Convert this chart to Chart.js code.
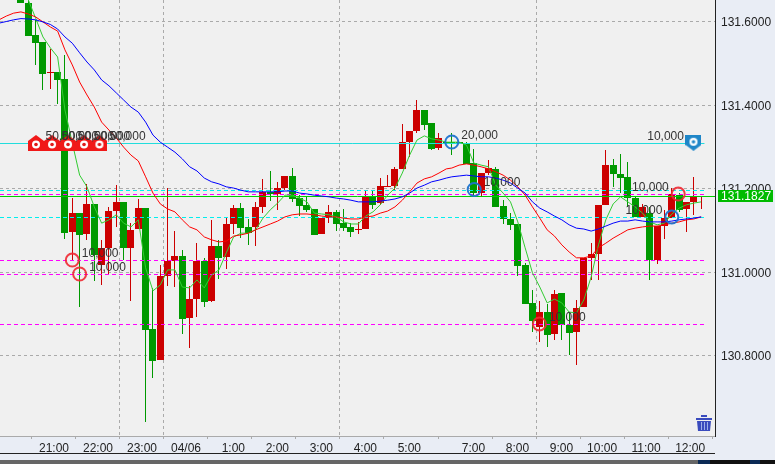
<!DOCTYPE html>
<html>
<head>
<meta charset="utf-8">
<title>USD/JPY chart</title>
<script src="https://cdn.jsdelivr.net/npm/chart.js@4"></script>
<style>
  html, body { margin: 0; padding: 0; background: #e9edf5; overflow: hidden; }
  #wrap { width: 775px; height: 464px; position: relative; }
</style>
</head>
<body>
<div id="wrap"><canvas id="chart" width="775" height="464"></canvas></div>
<script>
// candles, oldest first (first one is off screen, price was higher than the window)
const opens = [131.72,131.70,131.72,131.70,131.645,131.568,131.551,131.477,131.479,131.462,131.096,131.141,131.092,131.163,131.017,131.058,131.146,131.168,131.058,131.103,131.153,130.863,130.790,130.991,131.027,131.038,130.891,130.936,131.026,130.931,131.062,131.037,131.116,131.153,131.107,131.107,131.156,131.192,131.187,131.201,131.230,131.177,131.161,131.151,131.092,131.130,131.143,131.117,131.108,131.101,131.103,131.182,131.165,131.204,131.206,131.247,131.311,131.338,131.388,131.357,131.298,131.312,131.312,131.312,131.308,131.260,131.190,131.238,131.246,131.157,131.128,131.115,131.017,130.926,130.868,130.904,130.852,130.950,130.873,130.856,130.915,131.034,131.043,131.161,131.256,131.235,131.228,131.178,131.131,131.141,131.029,131.110,131.130,131.184,131.150,131.168,131.181];
const highs = [131.73,131.71,131.73,131.71,131.652,131.604,131.551,131.533,131.479,131.520,131.177,131.141,131.211,131.163,131.077,131.156,131.208,131.168,131.117,131.175,131.153,130.962,131.017,131.201,131.098,131.053,130.966,131.069,131.034,131.125,131.077,131.132,131.160,131.165,131.127,131.168,131.223,131.242,131.216,131.230,131.249,131.184,131.180,131.151,131.129,131.161,131.149,131.151,131.117,131.120,131.196,131.196,131.225,131.232,131.252,131.355,131.338,131.412,131.388,131.357,131.334,131.312,131.333,131.312,131.311,131.295,131.238,131.268,131.252,131.172,131.141,131.115,131.022,130.957,130.931,130.923,130.957,130.950,130.902,130.933,131.033,131.069,131.161,131.292,131.271,131.283,131.263,131.182,131.163,131.156,131.110,131.149,131.201,131.189,131.168,131.228,131.182];
const lows = [131.70,131.66,131.68,131.645,131.566,131.496,131.436,131.438,131.402,131.080,131.029,130.917,131.077,130.978,130.969,130.993,131.108,131.029,130.931,131.103,130.641,130.747,130.790,130.966,130.965,130.851,130.819,130.893,130.915,130.928,130.984,131.007,131.091,131.081,131.065,131.063,131.141,131.171,131.149,131.196,131.168,131.135,131.144,131.089,131.092,131.118,131.099,131.099,131.085,131.091,131.103,131.151,131.161,131.204,131.196,131.247,131.276,131.333,131.340,131.292,131.292,131.311,131.280,131.311,131.258,131.180,131.180,131.232,131.156,131.114,131.101,130.991,130.923,130.857,130.832,130.821,130.837,130.837,130.801,130.777,130.915,130.981,130.981,131.161,131.204,131.189,131.156,131.131,131.131,130.981,131.019,131.079,131.130,131.144,131.097,131.137,131.151];
const closes = [131.71,131.66,131.70,131.645,131.566,131.549,131.475,131.479,131.460,131.093,131.141,131.089,131.163,131.041,131.058,131.146,131.168,131.058,131.101,131.153,130.862,130.788,130.990,131.026,131.038,130.888,130.935,131.026,130.929,131.062,131.034,131.115,131.154,131.105,131.094,131.156,131.192,131.187,131.201,131.230,131.175,131.159,131.149,131.089,131.129,131.143,131.115,131.105,131.097,131.102,131.182,131.161,131.206,131.206,131.247,131.311,131.338,131.388,131.353,131.295,131.320,131.311,131.311,131.311,131.258,131.189,131.238,131.250,131.156,131.126,131.113,131.015,130.923,130.883,130.904,130.850,130.947,130.873,130.855,130.914,131.033,131.043,131.161,131.256,131.234,131.226,131.178,131.131,131.155,131.029,131.110,131.130,131.186,131.149,131.168,131.180,131.182];

// moving averages, one value per candle
const fastMa = [null,null,null,131.675,131.652,131.608,131.563,131.537,131.515,131.388,131.309,131.232,131.204,131.156,131.117,131.125,131.137,131.117,131.108,131.125,131.010,130.955,130.969,131.005,131.005,130.964,130.962,130.981,130.962,130.993,131.005,131.046,131.084,131.093,131.093,131.101,131.129,131.149,131.165,131.184,131.184,131.177,131.168,131.141,131.139,131.137,131.132,131.120,131.115,131.115,131.134,131.144,131.161,131.184,131.201,131.237,131.280,131.316,131.326,131.319,131.316,131.311,131.311,131.311,131.304,131.261,131.256,131.252,131.208,131.189,131.168,131.120,131.058,130.998,130.964,130.926,130.935,130.926,130.904,130.902,130.933,130.988,131.065,131.125,131.163,131.180,131.168,131.156,131.141,131.120,131.113,131.117,131.139,131.153,131.161,131.165,131.168];
const midMa = [131.604,131.613,131.620,131.623,131.618,131.611,131.599,131.587,131.577,131.532,131.496,131.455,131.424,131.395,131.359,131.340,131.321,131.299,131.280,131.266,131.228,131.189,131.163,131.151,131.144,131.125,131.108,131.101,131.084,131.077,131.072,131.074,131.086,131.089,131.093,131.101,131.108,131.115,131.122,131.132,131.137,131.139,131.139,131.137,131.134,131.132,131.132,131.129,131.127,131.127,131.132,131.134,131.141,131.146,131.156,131.172,131.192,131.213,131.223,131.228,131.237,131.247,131.249,131.256,131.259,131.256,131.252,131.247,131.240,131.232,131.220,131.204,131.184,131.156,131.129,131.101,131.086,131.065,131.048,131.034,131.034,131.038,131.058,131.069,131.081,131.091,131.101,131.105,131.108,131.110,131.110,131.113,131.117,131.120,131.125,131.127,131.132];
const slowMa = [131.596,131.600,131.604,131.607,131.606,131.604,131.599,131.593,131.582,131.563,131.548,131.525,131.503,131.484,131.460,131.446,131.429,131.412,131.395,131.383,131.359,131.328,131.311,131.299,131.287,131.271,131.252,131.242,131.225,131.216,131.211,131.204,131.201,131.196,131.192,131.192,131.192,131.192,131.192,131.194,131.194,131.189,131.187,131.184,131.182,131.180,131.177,131.175,131.172,131.168,131.168,131.168,131.170,131.172,131.175,131.180,131.189,131.201,131.208,131.216,131.220,131.225,131.228,131.230,131.232,131.230,131.228,131.228,131.225,131.220,131.213,131.201,131.189,131.168,131.153,131.144,131.134,131.125,131.113,131.105,131.103,131.098,131.103,131.110,131.117,131.122,131.122,131.125,131.122,131.120,131.120,131.120,131.122,131.125,131.127,131.129,131.132];

// axis ticks
const priceTicks = [131.6, 131.4, 131.2, 131.0, 130.8];
const timeSlots = [6.5, 12.5, 18.5, 24.5, 30.5, 36.5, 42.5, 48.5, 54.5, 63.25, 69.25, 75.25, 81.25, 87.25, 93.25];
const timeLabels = ["21:00","22:00","23:00","04/06","1:00","2:00","3:00","4:00","5:00","7:00","8:00","9:00","10:00","11:00","12:00"];
const gridSlots = [18.5, 24.5, 48.5, 75.25];
const lastPrice = 131.1827;

// order lines
const cyanSolid = [131.3088];
const cyanDashed = [131.1962, 131.1316];
const magentaDashed = [131.1866, 131.0286, 130.9950, 130.8751];

// trade markers
const markerSlots = [4.05, 6.24, 8.42, 10.6, 12.7, 60.75, 63.8, 9, 10, 72.7, 91.63, 90.75, 93.7];
const markerPrices = [131.309, 131.309, 131.309, 131.309, 131.309, 131.3114, 131.1976, 131.0287, 130.9952, 130.8755, 131.1868, 131.1317, 131.3095];
const markerKinds = ["house","house","house","house","house","blue","blue","red","red","red","red","blue","shield"];
const markerTexts = ["50,000","50,000","50,000","50,000","50,000","20,000","10,000","10,000","10,000","10,000","10,000","10,000","10,000"];
const markerSides = [1,1,1,1,1,1,1,1,1,1,-1,-1,-1];

const GREEN = "#009900";
const RED = "#cc0000";
const FONT = "12px 'Liberation Sans', Arial, sans-serif";

function slotOf(i) {
    // bars after the break around 6:00 sit a little closer
    return i >= 61 ? i - 0.25 : i;
}

const slots = opens.map((v, k) => slotOf(k - 1));
const candleColors = opens.map((v, k) => closes[k] > v ? RED : GREEN);

function makeIcon(w, h, paint) {
    let c = document.createElement("canvas");
    c.width = w;
    c.height = h;
    paint(c.getContext("2d"));
    return c;
}

const houseIcon = makeIcon(16, 16, function (g) {
    g.fillStyle = "#f01818";
    g.beginPath();
    g.moveTo(8, 0); g.lineTo(16, 6); g.lineTo(16, 16); g.lineTo(0, 16); g.lineTo(0, 6);
    g.closePath();
    g.fill();
    g.fillStyle = "#ffffff";
    g.beginPath(); g.arc(8, 9.5, 4, 0, Math.PI * 2); g.fill();
    g.fillStyle = "#e01818";
    g.beginPath(); g.arc(8, 9.5, 1.8, 0, Math.PI * 2); g.fill();
});

const shieldIcon = makeIcon(16, 16, function (g) {
    g.fillStyle = "#1f86c8";
    g.beginPath();
    g.moveTo(0, 0); g.lineTo(16, 0); g.lineTo(16, 10); g.lineTo(8, 16); g.lineTo(0, 10);
    g.closePath();
    g.fill();
    g.fillStyle = "#ffffff";
    g.beginPath(); g.arc(8, 7, 4, 0, Math.PI * 2); g.fill();
    g.fillStyle = "#1f86c8";
    g.beginPath(); g.arc(8, 7, 1.8, 0, Math.PI * 2); g.fill();
});

const iconFor = { house: houseIcon, shield: shieldIcon, red: "circle", blue: "circle" };
const ringFor = { red: "rgba(240,40,50,0.9)", blue: "rgba(30,115,205,0.95)", house: "transparent", shield: "transparent" };

function noPadding(axis) {
    // keep the plot flush with the window edges, labels may not push it in
    axis.paddingLeft = 0;
    axis.paddingRight = 0;
    axis.paddingTop = 0;
    axis.paddingBottom = 0;
}

function levelLine(price, color, dash, endSlot, order) {
    return {
        type: "line",
        snap: true,
        data: [{ x: -0.86, y: price }, { x: endSlot, y: price }],
        borderColor: color,
        borderWidth: 1,
        borderDash: dash,
        pointRadius: 0,
        order: order
    };
}

function maLine(values, color) {
    return {
        type: "line",
        data: values.map((v, k) => ({ x: slots[k], y: v })),
        borderColor: color,
        borderWidth: 1,
        pointRadius: 0,
        tension: 0,
        spanGaps: false,
        order: 2
    };
}

const datasets = [
    {
        type: "bar",
        data: slots.map((s, k) => ({ x: s, y: [lows[k], highs[k]] })),
        backgroundColor: candleColors,
        barThickness: 1,
        grouped: false,
        inflateAmount: 0,
        order: 6
    },
    {
        type: "bar",
        data: slots.map((s, k) => ({ x: s, y: [opens[k], closes[k]] })),
        backgroundColor: candleColors,
        barThickness: 7,
        grouped: false,
        inflateAmount: 0,
        order: 5
    },
    maLine(slowMa, "#0000ff"),
    maLine(midMa, "#ff0000"),
    maLine(fastMa, "#33cc33"),
    levelLine(lastPrice, "#00cc00", [], 96.64, 3),
    {
        type: "scatter",
        data: markerSlots.map((s, k) => ({ x: s, y: markerPrices[k] })),
        pointStyle: markerKinds.map(k => iconFor[k]),
        pointRadius: markerKinds.map(k => (k === "red" || k === "blue") ? 6.5 : 8),
        pointBackgroundColor: "transparent",
        pointBorderColor: markerKinds.map(k => ringFor[k]),
        pointBorderWidth: 2,
        order: 1
    }
];

cyanSolid.forEach(p => datasets.push(levelLine(p, "#22dddd", [], 95.2, 4)));
cyanDashed.forEach(p => datasets.push(levelLine(p, "#00eeee", [4, 3], 95.2, 4)));
magentaDashed.forEach(p => datasets.push(levelLine(p, "#ff00ff", [4, 3], 95.2, 4)));

const decorations = {
    id: "decorations",
    beforeDraw(chart) {
        const a = chart.chartArea;
        chart.ctx.fillStyle = "#f0f0f0";
        chart.ctx.fillRect(a.left, a.top, a.right - a.left, a.bottom - a.top);
    },
    beforeDatasetDraw(chart, args) {
        // level lines stay on one pixel row
        if (chart.data.datasets[args.index].snap) {
            args.meta.data.forEach(function (el) {
                el.y = Math.round(el.y) + 0.5;
            });
        }
        // snap candle rects to whole pixels
        if (args.meta.type !== "bar") return;
        args.meta.data.forEach(function (el) {
            let left = Math.round(el.x - 3.5);
            let top = Math.round(Math.min(el.y, el.base));
            let bottom = Math.round(Math.max(el.y, el.base));
            if (bottom === top) bottom = top + 1;
            el.x = left + 3.5;
            el.y = top;
            el.base = bottom;
        });
    },
    afterDatasetsDraw(chart) {
        const ctx = chart.ctx;
        const x = chart.scales.x;
        const y = chart.scales.y;
        ctx.save();
        ctx.font = FONT;
        ctx.fillStyle = "#333333";
        ctx.textBaseline = "middle";
        markerTexts.forEach(function (t, k) {
            let px = x.getPixelForValue(markerSlots[k]);
            let py = y.getPixelForValue(markerPrices[k]);
            ctx.textAlign = markerSides[k] > 0 ? "left" : "right";
            ctx.fillText(t, px + markerSides[k] * 9.5, py - 6.5);
        });
        ctx.restore();
    },
    afterDraw(chart) {
        const ctx = chart.ctx;
        const y = chart.scales.y;
        ctx.save();
        // last price tag
        let py = Math.round(y.getPixelForValue(lastPrice));
        ctx.fillStyle = "#00bb00";
        ctx.fillRect(718, py - 6, 55, 12);
        ctx.fillStyle = "#ffffff";
        ctx.font = FONT;
        ctx.textBaseline = "middle";
        ctx.textAlign = "left";
        ctx.fillText(lastPrice.toFixed(4), 721, py + 0.5);
        // trash can
        ctx.fillStyle = "#3a4bbd";
        ctx.fillRect(696, 418, 16, 2);
        ctx.fillRect(701, 415, 6, 2);
        ctx.beginPath();
        ctx.moveTo(697, 421); ctx.lineTo(711, 421); ctx.lineTo(710, 431); ctx.lineTo(698, 431);
        ctx.closePath();
        ctx.fill();
        ctx.fillStyle = "#9fb0e8";
        [701, 704, 707].forEach(v => ctx.fillRect(v, 422, 1, 8));
        // window frame below the chart
        ctx.fillStyle = "#222222";
        ctx.fillRect(0, 453, 715, 1);
        ctx.fillStyle = "#666666";
        ctx.fillRect(0, 460, 775, 4);
        ctx.fillStyle = "#0b2a55";
        ctx.fillRect(698, 460, 12, 4);
        ctx.fillRect(750, 460, 10, 4);
        ctx.fillStyle = "#111111";
        ctx.fillRect(710, 460, 40, 4);
        ctx.fillRect(760, 460, 15, 4);
        ctx.restore();
    }
};

new Chart(document.getElementById("chart"), {
    type: "bar",
    data: { datasets: datasets },
    plugins: [decorations],
    options: {
        responsive: false,
        animation: false,
        layout: { padding: 0, autoPadding: false },
        plugins: { legend: { display: false }, tooltip: { enabled: false } },
        scales: {
            x: {
                type: "linear",
                offset: false,
                min: -0.859,
                max: 96.64,
                afterBuildTicks(axis) { axis.ticks = timeSlots.map(v => ({ value: v })); },
                afterFit(axis) { axis.height = 28; noPadding(axis); },
                ticks: {
                    autoSkip: false,
                    maxRotation: 0,
                    padding: 2,
                    color: "#222222",
                    font: { family: "'Liberation Sans', Arial, sans-serif", size: 12 },
                    callback(value, index) {
                        // single digit hours sit a bit to the right in the original
                        let t = timeLabels[index];
                        return t.length < 5 ? "\u2007" + t : t;
                    }
                },
                grid: {
                    color: ctx => gridSlots.includes(ctx.tick && ctx.tick.value) ? "#aaaaaa" : "transparent",
                    tickColor: "#aaaaaa",
                    tickLength: 3
                },
                border: { color: "#aaaaaa", dash: [3, 3] }
            },
            y: {
                position: "right",
                min: 130.6072,
                max: 131.6515,
                afterBuildTicks(axis) { axis.ticks = priceTicks.map(v => ({ value: v })); },
                afterFit(axis) { axis.width = 60; noPadding(axis); },
                ticks: {
                    padding: 6,
                    labelOffset: 1.5,
                    color: "#222222",
                    font: { family: "'Liberation Sans', Arial, sans-serif", size: 12 },
                    callback(value) { return value.toFixed(4); }
                },
                grid: { color: "#aaaaaa", drawTicks: false },
                border: { color: "#222222", dash: [3, 3] }
            }
        }
    }
});
</script>
</body>
</html>
